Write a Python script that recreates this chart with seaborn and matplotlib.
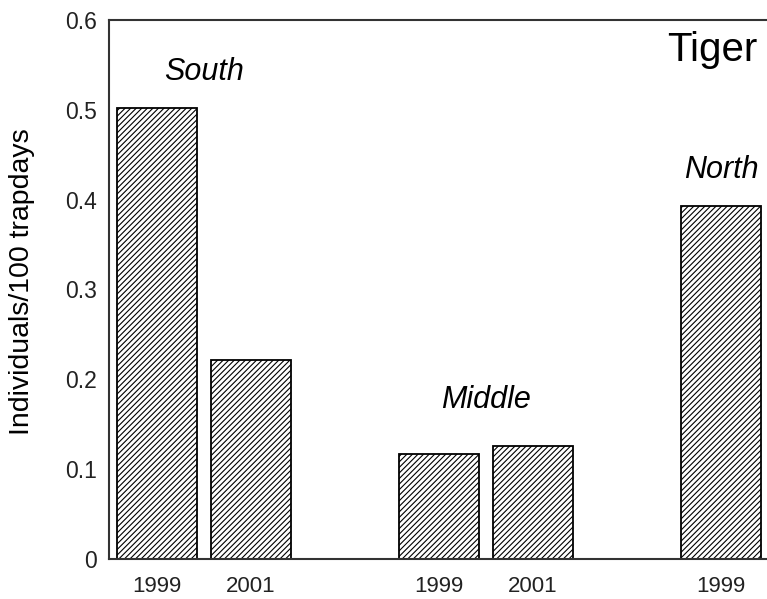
import pandas as pd
import matplotlib
matplotlib.use('Agg')
import matplotlib.pyplot as plt
import seaborn as sns

# values
regions = ['South', 'South', 'Middle', 'Middle', 'North']
years = ['1999', '2001', '1999', '2001', '1999']
rates = [0.502, 0.222, 0.117, 0.126, 0.393]

# group label heights (data units)
group_names = ['South', 'Middle', 'North']
group_label_y = [0.542, 0.177, 0.433]

sns.set_style('white')
plt.rcParams['font.family'] = ['Liberation Sans', 'DejaVu Sans']
plt.rcParams['hatch.linewidth'] = 0.8

df = pd.DataFrame({'region': regions, 'year': years, 'rate': rates})
df['key'] = df['region'] + ' ' + df['year']

# empty slots between the groups
order = ['South 1999', 'South 2001', '', 'Middle 1999', 'Middle 2001', ' ', 'North 1999']

fig = plt.figure(figsize=(7.67, 5.99), dpi=100)
ax = fig.add_axes([109 / 767, 40 / 599, 658 / 767, 539 / 599])

sns.barplot(data=df, x='key', y='rate', order=order, color='white',
            edgecolor='black', linewidth=1.3, width=0.85, saturation=1, ax=ax)
for p in ax.patches:
    p.set_facecolor('white')
    p.set_hatch('//////')

ax.set_xlim(-0.511, 6.489)
ax.set_ylim(0, 0.6)
ax.set_yticks([0, 0.1, 0.2, 0.3, 0.4, 0.5, 0.6])
ax.set_yticklabels(['0', '0.1', '0.2', '0.3', '0.4', '0.5', '0.6'])
ax.set_xticks(range(len(order)))
ax.set_xticklabels([k.split(' ')[-1] if k.strip() else '' for k in order])
ax.tick_params(axis='y', length=0, pad=9, labelsize=16.5, labelcolor='#222222')
ax.tick_params(axis='x', length=0, pad=12, labelsize=16, labelcolor='#222222')
ax.set_xlabel('')
ax.set_ylabel('')

for s in ['left', 'bottom', 'top']:
    ax.spines[s].set_color('#333333')
    ax.spines[s].set_linewidth(1.5)
ax.spines['right'].set_visible(False)

# group labels centred over each region's bars
pos = {k: i for i, k in enumerate(order)}
for name, ly in zip(group_names, group_label_y):
    xs = [pos[k] for k in df.loc[df['region'] == name, 'key']]
    ax.text(sum(xs) / len(xs), ly, name, ha='center', va='center',
            fontsize=22, style='italic', color='black')

ax.text(0.985, 0.945, 'Tiger', transform=ax.transAxes, ha='right', va='center',
        fontsize=29, color='black')

fig.text(22 / 767, 1 - 282 / 599, 'Individuals/100 trapdays', rotation=90,
         ha='center', va='center', fontsize=20.5, color='black')

fig.savefig('out.png', dpi=100)
